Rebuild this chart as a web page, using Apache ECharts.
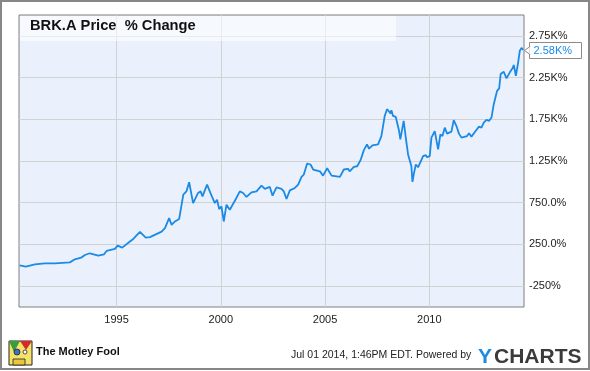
<!DOCTYPE html>
<html><head><meta charset="utf-8">
<script src="https://cdn.jsdelivr.net/npm/echarts@6/dist/echarts.min.js"></script>
<style>html,body{margin:0;padding:0;background:#fff}#c{width:590px;height:371px}</style>
</head><body><div id="c"></div><script>
const years = [1990.35,1990.65,1991.08,1991.56,1992.04,1992.76,1993.0,1993.3,1993.48,1993.72,1994.12,1994.4,1994.52,1994.92,1995.05,1995.27,1995.64,1995.8,1996.12,1996.4,1996.6,1997.16,1997.32,1997.52,1997.64,1997.8,1998.0,1998.2,1998.35,1998.48,1998.67,1998.91,1999.03,1999.12,1999.34,1999.5,1999.71,1999.82,1999.92,2000.03,2000.14,2000.27,2000.43,2000.72,2000.91,2001.07,2001.23,2001.47,2001.71,2001.95,2002.11,2002.35,2002.48,2002.67,2002.91,2003.02,2003.15,2003.31,2003.55,2003.71,2003.87,2003.98,2004.14,2004.3,2004.43,2004.75,2004.9,2005.1,2005.31,2005.71,2005.9,2006.1,2006.18,2006.38,2006.54,2006.7,2006.86,2007.01,2007.11,2007.27,2007.54,2007.7,2007.86,2007.97,2008.05,2008.14,2008.18,2008.26,2008.39,2008.55,2008.61,2008.71,2008.77,2008.87,2008.98,2009.14,2009.19,2009.25,2009.35,2009.46,2009.54,2009.7,2009.83,2009.89,2010.02,2010.1,2010.26,2010.42,2010.53,2010.63,2010.74,2010.85,2011.06,2011.17,2011.3,2011.42,2011.54,2011.81,2011.9,2012.02,2012.22,2012.38,2012.5,2012.61,2012.74,2012.86,2012.98,2013.09,2013.25,2013.35,2013.42,2013.51,2013.57,2013.7,2013.86,2013.99,2014.05,2014.15,2014.26,2014.34,2014.42,2014.5];
const values = [0,-17,11,23,23,35,72,91,123,144,115,132,172,196,236,212,285,316,400,332,337,404,445,566,485,525,554,846,886,995,746,867,886,826,967,867,746,786,674,705,525,726,666,795,886,867,819,874,886,955,915,939,834,934,915,886,795,898,927,967,1060,1087,1220,1208,1148,1127,1075,1163,1075,1060,1148,1156,1127,1180,1187,1260,1380,1449,1397,1437,1449,1549,1790,1871,1850,1819,1859,1790,1778,1609,1509,1650,1730,1530,1328,1187,999,1087,1208,1175,1160,1308,1320,1296,1308,1530,1609,1389,1569,1549,1650,1578,1602,1740,1669,1578,1530,1549,1582,1542,1609,1662,1650,1710,1742,1730,1771,1931,2091,2120,2292,2272,2320,2240,2313,2361,2401,2272,2433,2573,2606,2580];
const yTicks = [-250,250,750,1250,1750,2250,2750];
const yTickLabels = ['-250%','250.0%','750.0%','1.25K%','1.75K%','2.25K%','2.75K%'];
const xTicks = [1995,2000,2005,2010];
const xTickLabels = ['1995','2000','2005','2010'];
const lastLabel = '2.58K%';
const titleText = 'BRK.A Price  % Change';
const footerText = 'Jul 01 2014, 1:46PM EDT. Powered by';

const FONT = '"Liberation Sans", Arial, sans-serif';
const chart = echarts.init(document.getElementById('c'), null, {renderer:'canvas'});
chart.setOption({
  animation: false,
  grid: {left:19, right:66, top:15, bottom:64, show:true, backgroundColor:'#eaf1fc', borderColor:'#7f7f7f', borderWidth:1},
  xAxis: {
    type:'value', min:1990.32, max:2014.54,
    axisLine:{show:false},
    axisTick:{show:false, customValues:xTicks},
    splitLine:{show:true, lineStyle:{color:'#d2d2d2', width:1}},
    axisLabel:{customValues:xTicks, color:'#222', fontSize:11, fontFamily:FONT, margin:7,
      formatter:v=>xTickLabels[xTicks.indexOf(Math.round(v))] || ''}
  },
  yAxis: {
    type:'value', position:'right', min:-500, max:3000,
    axisLine:{show:false},
    axisTick:{show:false, customValues:yTicks},
    splitLine:{show:true, lineStyle:{color:'#d2d2d2', width:1}},
    axisLabel:{customValues:yTicks, color:'#222', fontSize:11, fontFamily:FONT, margin:5,
      formatter:v=>yTickLabels[yTicks.indexOf(Math.round(v))] || ''}
  },
  series: [{
    type:'line', showSymbol:false, symbol:'none',
    data: years.map((y,i)=>[y, values[i]]),
    lineStyle:{color:'#1a8ae6', width:1.8},
    z:3
  }]
});

const last = chart.convertToPixel({gridIndex:0}, [years[years.length-1], values[values.length-1]]);
const bx = Math.round(last[0]) + 6.5, by = Math.round(last[1]) - 7.5;
chart.setOption({
  graphic: [
    {type:'rect', shape:{x:20, y:16, width:376, height:25}, style:{fill:'rgba(255,255,255,0.55)'}, z:1, silent:true},
    {type:'text', x:30, y:18, style:{text:titleText, font:'bold 14.7px '+FONT, fill:'#111'}, z:5},
    {type:'rect', shape:{x:bx, y:by, width:52, height:16}, style:{fill:'#fff', stroke:'#8a8a8a', lineWidth:1}, z:10},
    {type:'polygon', shape:{points:[[bx+0.5,by+4],[bx-5,by+8],[bx+0.5,by+12]]}, style:{fill:'#fff', stroke:'#8a8a8a', lineWidth:1}, z:11},
    {type:'rect', shape:{x:bx, y:by+4.5, width:1.5, height:7}, style:{fill:'#fff'}, z:12},
    {type:'text', x:bx+4, y:by+2.5, style:{text:lastLabel, font:'11px '+FONT, fill:'#1a8ae6'}, z:12},
    // footer
    {type:'text', x:291, y:350, style:{text:footerText, font:'10.5px '+FONT, fill:'#222'}},
    {type:'text', x:478, y:347, style:{text:'{y|Y}{c|CHARTS}', rich:{
      y:{font:'bold 21px '+FONT, fill:'#1b8be3', color:'#1b8be3'},
      c:{font:'bold 21px '+FONT, fill:'#3b3b3b', color:'#3b3b3b', padding:[0,0,0,2]}
    }}},
    {type:'text', x:36, y:346, style:{text:'The Motley Fool', font:'bold 11px '+FONT, fill:'#111'}},
    // logo approximation
    {type:'group', children:[
      {type:'rect', shape:{x:9, y:341, width:23, height:24}, style:{fill:'#f4e26a', stroke:'#222', lineWidth:1}},
      {type:'polygon', shape:{points:[[9,341],[20,341],[14,352]]}, style:{fill:'#3a9c3a'}},
      {type:'polygon', shape:{points:[[20,341],[32,341],[26,350]]}, style:{fill:'#d62a2a'}},
      {type:'circle', shape:{cx:17, cy:352, r:3}, style:{fill:'#3a6fd6', stroke:'#222', lineWidth:0.8}},
      {type:'circle', shape:{cx:25, cy:352, r:2}, style:{fill:'#fff', stroke:'#222', lineWidth:0.8}},
      {type:'rect', shape:{x:13, y:359, width:12, height:6}, style:{fill:'#e8c83a', stroke:'#222', lineWidth:0.8}}
    ]},
    {type:'rect', shape:{x:1, y:1, width:588, height:368}, style:{fill:'none', stroke:'#878787', lineWidth:2}, z:20, silent:true}
  ]
});
</script></body></html>
